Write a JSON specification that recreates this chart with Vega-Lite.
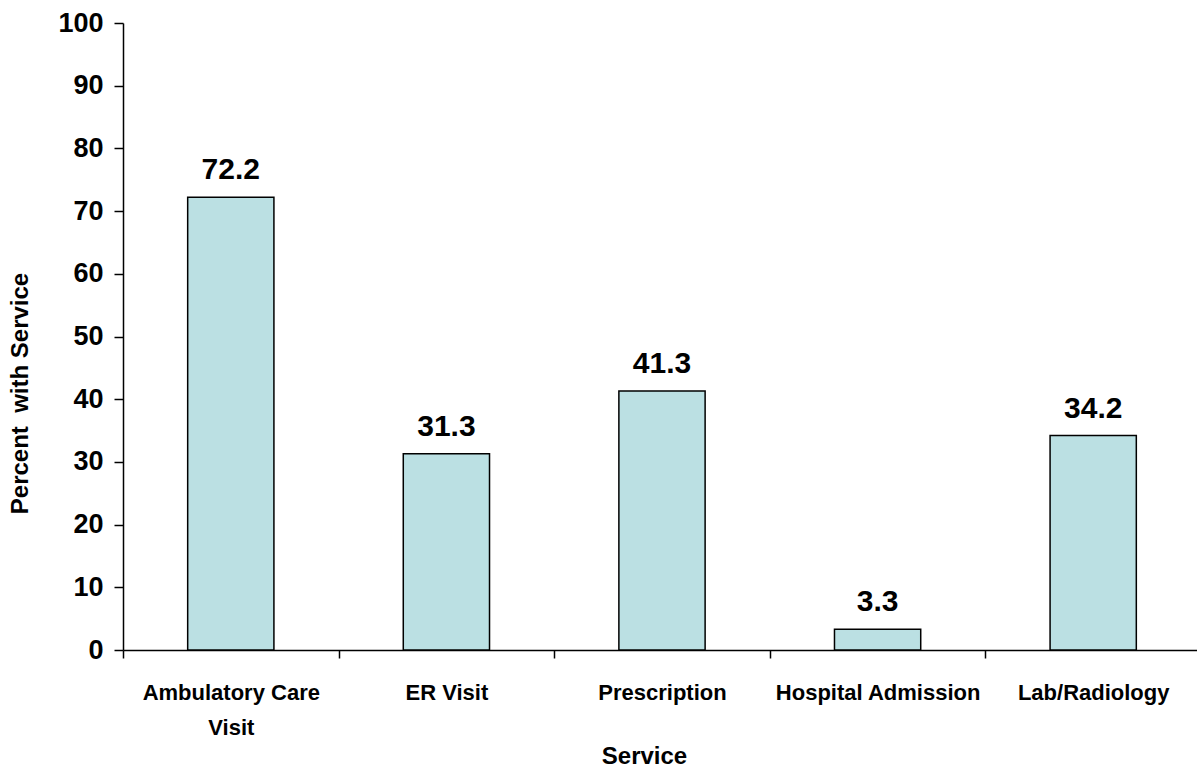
{
  "$schema": "https://vega.github.io/schema/vega-lite/v6.json",
  "width": 1074,
  "height": 627,
  "autosize": "none",
  "padding": {"left": 123, "top": 23, "right": 0, "bottom": 117},
  "background": "white",
  "data": {
    "values": [
      {"service": "Ambulatory Care Visit", "pct": 72.2},
      {"service": "ER Visit", "pct": 31.3},
      {"service": "Prescription", "pct": 41.3},
      {"service": "Hospital Admission", "pct": 3.3},
      {"service": "Lab/Radiology", "pct": 34.2}
    ]
  },
  "encoding": {
    "x": {
      "field": "service",
      "type": "nominal",
      "sort": null,
      "title": "Service",
      "scale": {"paddingInner": 0, "paddingOuter": 0, "range": [0, 1078]},
      "axis": {
        "labelAngle": 0,
        "tickBand": "extent",
        "tickSize": 8,
        "tickWidth": 1.5,
        "tickColor": "black",
        "domainColor": "black",
        "domainWidth": 1.5,
        "labelFont": "Liberation Sans",
        "labelFontSize": 22,
        "labelFontWeight": "bold",
        "labelColor": "black",
        "labelPadding": 24,
        "labelLimit": 0,
        "labelLineHeight": 35,
        "labelExpr": "datum.value == 'Ambulatory Care Visit' ? ['Ambulatory Care', 'Visit'] : datum.label",
        "titleFont": "Liberation Sans",
        "titleFontSize": 24,
        "titleFontWeight": "bold",
        "titleColor": "black",
        "titleX": 521,
        "titleY": 113,
        "titleBaseline": "alphabetic",
        "titleAlign": "center"
      }
    },
    "y": {
      "field": "pct",
      "type": "quantitative",
      "title": "Percent\u00a0 with Service",
      "scale": {"domain": [0, 100], "nice": false},
      "axis": {
        "values": [0, 10, 20, 30, 40, 50, 60, 70, 80, 90, 100],
        "grid": false,
        "tickSize": 9,
        "tickWidth": 1.5,
        "tickColor": "black",
        "domainColor": "black",
        "domainWidth": 1.5,
        "labelFont": "Liberation Sans",
        "labelFontSize": 27,
        "labelFontWeight": "bold",
        "labelColor": "black",
        "labelPadding": 11,
        "titleFont": "Liberation Sans",
        "titleFontSize": 24,
        "titleFontWeight": "bold",
        "titleColor": "black",
        "titleX": -96,
        "titleY": 370,
        "titleBaseline": "alphabetic",
        "titleAlign": "center",
        "titleAngle": -90
      }
    }
  },
  "layer": [
    {
      "mark": {
        "type": "bar",
        "width": {"band": 0.4},
        "fill": "#BBE0E3",
        "stroke": "black",
        "strokeWidth": 1.5
      }
    },
    {
      "mark": {
        "type": "text",
        "baseline": "alphabetic",
        "dy": -18,
        "font": "Liberation Sans",
        "fontSize": 30,
        "fontWeight": "bold",
        "color": "black"
      },
      "encoding": {
        "text": {"field": "pct", "type": "quantitative", "format": ".1f"}
      }
    }
  ],
  "config": {"view": {"stroke": null}}
}
